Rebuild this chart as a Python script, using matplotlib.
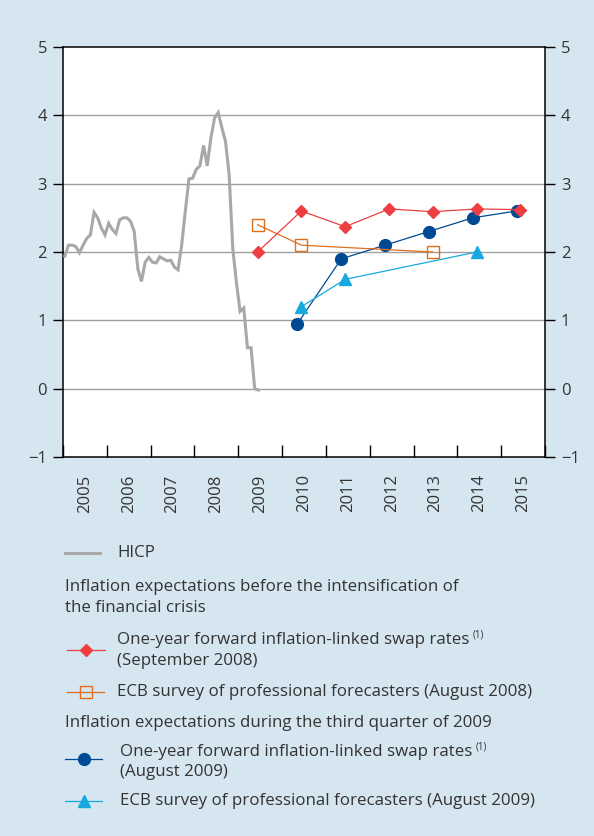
import numpy as np
import matplotlib
matplotlib.use("Agg")
import matplotlib.pyplot as plt
from matplotlib.lines import Line2D

plt.rcParams['font.family'] = ['Open Sans', 'DejaVu Sans']

# ---------------- data ----------------
# HICP, monthly, January 2005 - June 2009 (annual % change)
hicp_start = 2005
hicp = [1.94, 2.10, 2.10, 2.08, 1.99, 2.10, 2.20, 2.25, 2.58, 2.50, 2.35, 2.25,
        2.42, 2.33, 2.27, 2.47, 2.50, 2.50, 2.45, 2.30, 1.75, 1.57, 1.85, 1.92,
        1.85, 1.84, 1.93, 1.90, 1.87, 1.88, 1.78, 1.74, 2.10, 2.60, 3.07, 3.08,
        3.21, 3.26, 3.56, 3.26, 3.67, 3.96, 4.04, 3.82, 3.62, 3.13, 2.05, 1.55,
        1.13, 1.18, 0.60, 0.60, 0.00, -0.02]

swap_sep08_years = [2009, 2010, 2011, 2012, 2013, 2014, 2015]
swap_sep08 = [2.00, 2.60, 2.37, 2.63, 2.59, 2.63, 2.62]

spf_aug08_years = [2009, 2010, 2013]
spf_aug08 = [2.40, 2.10, 2.00]

swap_aug09_years = [2010, 2011, 2012, 2013, 2014, 2015]
swap_aug09 = [0.95, 1.90, 2.10, 2.30, 2.50, 2.60]

spf_aug09_years = [2010, 2011, 2014]
spf_aug09 = [1.20, 1.60, 2.00]

year_labels = ['2005', '2006', '2007', '2008', '2009', '2010',
               '2011', '2012', '2013', '2014', '2015']
y_ticks = [-1, 0, 1, 2, 3, 4, 5]

# ---------------- style ----------------
BG = '#D5E6F1'
TXT = '#333333'
GREY = '#A8A8A8'
RED = '#EE3E42'
ORANGE = '#DE6E1E'
NAVY = '#004A93'
CYAN = '#16A9E1'

W, H = 594, 836
fig = plt.figure(figsize=(W / 100, H / 100), dpi=100, facecolor=BG)

def fx(px):
    return px / W

def fy(py):
    return 1 - py / H

ax = fig.add_axes([fx(63), fy(457), fx(545) - fx(63), fy(47) - fy(457)])
ax.set_facecolor('white')

# HICP line
hx = hicp_start + (np.arange(len(hicp)) + 0.5) / 12
ax.plot(hx, hicp, color=GREY, lw=2.2, zorder=3, solid_joinstyle='miter')

off_a = 0.44
off_b = 0.35
ax.plot(np.array(swap_aug09_years) + off_b, swap_aug09, color=NAVY, lw=0.9,
        marker='o', ms=8.5, mec=NAVY, mfc=NAVY, zorder=4)
ax.plot(np.array(spf_aug09_years) + off_a, spf_aug09, color=CYAN, lw=0.9,
        marker='^', ms=8, mec=CYAN, mfc=CYAN, zorder=4)
ax.plot(np.array(spf_aug08_years) + off_a, spf_aug08, color=ORANGE, lw=0.9,
        marker='s', ms=8.2, mec=ORANGE, mfc='none', mew=1.0, zorder=5)
ax.plot(np.array(swap_sep08_years) + off_a, swap_sep08, color=RED, lw=0.9,
        marker='D', ms=5.8, mec=RED, mfc=RED, zorder=6)

ax.set_xlim(2005, 2016)
ax.set_ylim(-1, 5)

for v in [0, 1, 2, 3, 4]:
    ax.axhline(v, color='#A0A0A0', lw=1.0, zorder=1)

for s in ax.spines.values():
    s.set_color('black')
    s.set_linewidth(1.1)

ax.set_yticks(y_ticks)
ax.set_yticklabels([str(v).replace('-', '\u2212') for v in y_ticks])
ax.tick_params(axis='y', which='major', direction='out', length=7.5, width=1.0,
               left=True, right=True, labelleft=True, labelright=True,
               labelsize=12, labelcolor=TXT, pad=4)

ax.set_xticks(np.arange(2005, 2017))
ax.set_xticklabels([])
ax.tick_params(axis='x', which='major', direction='in', length=8.5, width=1.0,
               bottom=True, top=False)
ax.set_xticks(np.arange(2005, 2016) + 0.5, minor=True)
ax.set_xticklabels(year_labels, minor=True, rotation=90)
ax.tick_params(axis='x', which='minor', length=0, labelsize=12,
               labelcolor=TXT, pad=12.5)

# ---------------- legend ----------------
FS = 12.2
renderer = fig.canvas.get_renderer()

def legline(x0, x1, y, color, lw, marker=None, **mk):
    fig.add_artist(Line2D([fx(x0), fx(x1)], [fy(y), fy(y)],
                          transform=fig.transFigure, color=color, lw=lw))
    if marker:
        fig.add_artist(Line2D([fx((x0 + x1) / 2)], [fy(y)],
                              transform=fig.transFigure, color=color,
                              marker=marker, lw=0, **mk))

def txt(x, y, s, sup=False):
    t = fig.text(fx(x), fy(y), s, fontsize=FS, color=TXT, va='center', ha='left')
    if sup:
        bb = t.get_window_extent(renderer)
        fig.text((bb.x1 + 3) / W, fy(y - 5), '(1)', fontsize=7, color=TXT,
                 va='center', ha='left')
    return t

legline(65, 100, 553, GREY, 2.2)
txt(117, 553, 'HICP')

txt(65, 587, 'Inflation expectations before the intensification of')
txt(65, 608, 'the financial crisis')

legline(67, 105, 650, RED, 0.9, marker='D', ms=5.8, mec=RED, mfc=RED)
txt(117, 640, 'One-year forward inflation-linked swap rates', sup=True)
txt(117, 661, '(September 2008)')

legline(67, 104, 692, ORANGE, 0.9, marker='s', ms=8.2, mec=ORANGE,
        mfc='none', mew=1.0)
txt(117, 692, 'ECB survey of professional forecasters (August 2008)')

txt(65, 723, 'Inflation expectations during the third quarter of 2009')

legline(65, 102, 759, NAVY, 0.9, marker='o', ms=8.5, mec=NAVY, mfc=NAVY)
txt(120, 752, 'One-year forward inflation-linked swap rates', sup=True)
txt(120, 772, '(August 2009)')

legline(65, 102, 801, CYAN, 0.9, marker='^', ms=8, mec=CYAN, mfc=CYAN)
txt(120, 801, 'ECB survey of professional forecasters (August 2009)')

fig.savefig('out.png', dpi=100, facecolor=BG)
